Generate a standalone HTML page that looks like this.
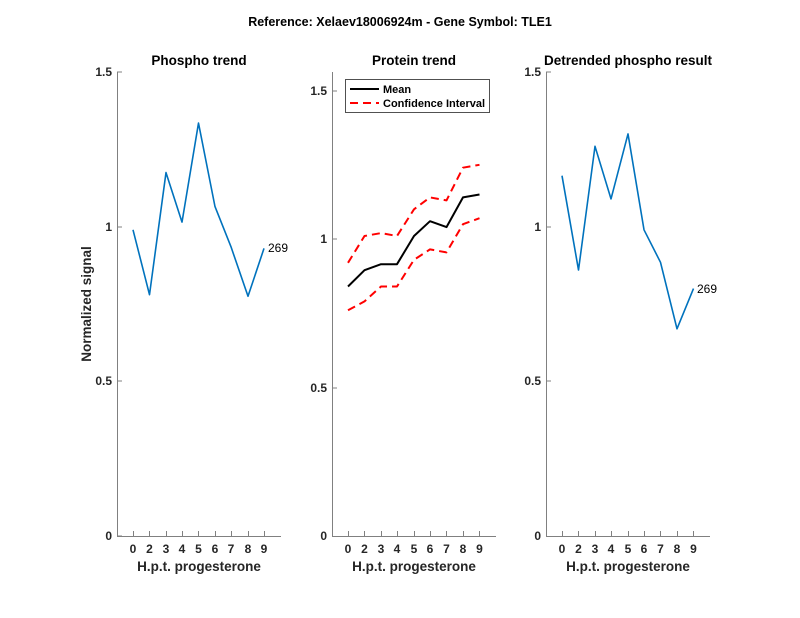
<!DOCTYPE html>
<html><head><meta charset="utf-8"><style>body{margin:0;background:#fff}svg{display:block}text{font-family:"Liberation Sans",sans-serif}</style></head><body>
<svg width="800" height="618" viewBox="0 0 800 618" xmlns="http://www.w3.org/2000/svg">
<rect width="800" height="618" fill="#fff"/>
<text x="400" y="26" font-size="12.5" font-weight="bold" text-anchor="middle" fill="#000">Reference:  Xelaev18006924m - Gene Symbol:  TLE1</text>
<g stroke="#808080" stroke-width="1" fill="none">
<path d="M117.5 72V536.5H281"/><path d="M332.5 72V536.5H496"/><path d="M546.5 72V536.5H710"/>
<path d="M117 72h5M117 227h5M117 381h5M117 536h5"/>
<path d="M332 91h5M332 239h5M332 388h5"/>
<path d="M546 72h5M546 227h5M546 381h5"/>
<path d="M133.5 536v-5M149.5 536v-5M166.5 536v-5M182.5 536v-5M198.5 536v-5M215.5 536v-5M231.5 536v-5M248.5 536v-5M264.5 536v-5"/>
<path d="M348.5 536v-5M364.5 536v-5M381.5 536v-5M397.5 536v-5M414.5 536v-5M430.5 536v-5M446.5 536v-5M463.5 536v-5M479.5 536v-5"/>
<path d="M562.5 536v-5M578.5 536v-5M595.5 536v-5M611.5 536v-5M628.5 536v-5M644.5 536v-5M660.5 536v-5M677.5 536v-5M693.5 536v-5"/>
</g>
<g font-size="12" font-weight="bold" fill="#262626">
<g text-anchor="end"><text x="112" y="76">1.5</text><text x="112" y="231">1</text><text x="112" y="385">0.5</text><text x="112" y="540">0</text>
<text x="327" y="95">1.5</text><text x="327" y="243">1</text><text x="327" y="392">0.5</text><text x="327" y="540">0</text>
<text x="541" y="76">1.5</text><text x="541" y="231">1</text><text x="541" y="385">0.5</text><text x="541" y="540">0</text></g>
<g text-anchor="middle">
<text x="133" y="553">0</text><text x="149.5" y="553">2</text><text x="166" y="553">3</text><text x="182" y="553">4</text><text x="198.5" y="553">5</text><text x="215" y="553">6</text><text x="231" y="553">7</text><text x="248" y="553">8</text><text x="264" y="553">9</text>
<text x="348" y="553">0</text><text x="364.5" y="553">2</text><text x="381" y="553">3</text><text x="397" y="553">4</text><text x="414" y="553">5</text><text x="430" y="553">6</text><text x="446.5" y="553">7</text><text x="463" y="553">8</text><text x="479.5" y="553">9</text>
<text x="562" y="553">0</text><text x="578.5" y="553">2</text><text x="595" y="553">3</text><text x="611" y="553">4</text><text x="628" y="553">5</text><text x="644" y="553">6</text><text x="660.5" y="553">7</text><text x="677" y="553">8</text><text x="693.5" y="553">9</text>
</g></g>
<g font-size="13.5" font-weight="bold" fill="#262626" text-anchor="middle">
<text x="199" y="571">H.p.t. progesterone</text><text x="414" y="571">H.p.t. progesterone</text><text x="628" y="571">H.p.t. progesterone</text>
<text transform="translate(91 304) rotate(-90)">Normalized signal</text>
</g>
<g font-size="13.5" font-weight="bold" fill="#000" text-anchor="middle">
<text x="199" y="65">Phospho trend</text><text x="414" y="65">Protein trend</text><text x="628" y="65">Detrended phospho result</text>
</g>
<g fill="none" stroke-width="1.6" stroke-linejoin="round">
<polyline stroke="#0072BD" points="133,229.8 149.5,294.7 166,172.6 182,222.1 198.5,123.1 215,206.6 231,246.8 248,296.3 264,248.4"/>
<polyline stroke="#0072BD" points="562,175.7 578.5,270 595,146.3 611,198.9 628,133.9 644,229.8 660.5,262.3 677,328.8 693.5,288.6"/>
<polyline stroke="#000" stroke-width="2" points="348,286.5 364.5,270.2 381,264.2 397,264.2 414,236 430,221.2 446.5,227.1 463,197.4 479.5,194.5"/>
<polyline stroke="#f00" stroke-width="2" stroke-dasharray="8,5" points="348,262.8 364.5,236 381,233.1 397,236 414,209.3 430,197.4 446.5,200.4 463,167.7 479.5,164.8"/>
<polyline stroke="#f00" stroke-width="2" stroke-dasharray="8,5" points="348,310.3 364.5,301.4 381,286.5 397,286.5 414,259.8 430,249.4 446.5,252.4 463,224.2 479.5,218.2"/>
</g>
<g font-size="12" fill="#000"><text x="268" y="252">269</text><text x="697" y="293">269</text></g>
<rect x="345.5" y="79.5" width="144" height="33" fill="#fff" stroke="#262626" stroke-width="0.8"/>
<line x1="350" y1="89" x2="379" y2="89" stroke="#000" stroke-width="2"/>
<line x1="350" y1="103" x2="379" y2="103" stroke="#f00" stroke-width="2" stroke-dasharray="8,5"/>
<g font-size="11" font-weight="bold" fill="#000"><text x="383" y="93">Mean</text><text x="383" y="107">Confidence Interval</text></g>
</svg>
</body></html>
